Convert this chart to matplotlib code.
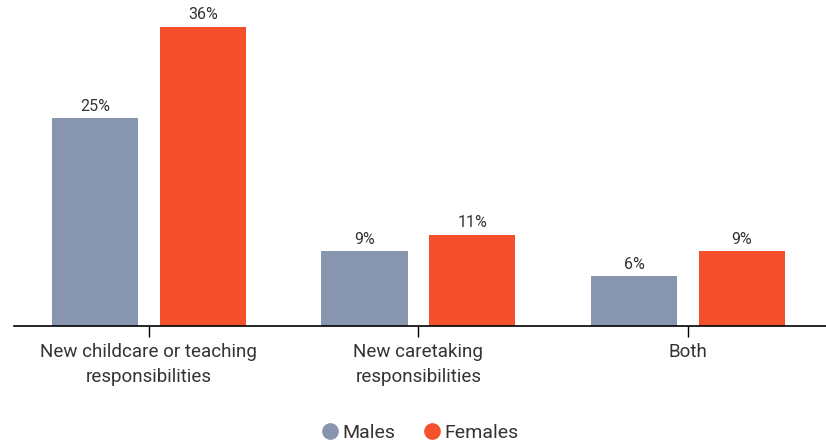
import numpy as np
import matplotlib.pyplot as plt
from matplotlib.lines import Line2D

# Data
categories = ['New childcare or teaching\nresponsibilities', 'New caretaking\nresponsibilities', 'Both']
males = [25, 9, 6]
females = [36, 11, 9]
series_names = ['Males', 'Females']
colors = ['#8796AE', '#F5502C']

plt.rcParams['font.family'] = ['Roboto', 'DejaVu Sans']
text_color = '#333333'

fig = plt.figure(figsize=(8.26, 4.44), dpi=100)
ax = fig.add_axes([14 / 826, 1 - 326 / 444, 1 - 14 / 826, 326 / 444])

x = np.arange(len(categories))
width = 0.32
off = 0.2
b1 = ax.bar(x - off, males, width, color=colors[0])
b2 = ax.bar(x + off, females, width, color=colors[1])

for bars, vals in [(b1, males), (b2, females)]:
    for bar, v in zip(bars, vals):
        ax.text(bar.get_x() + bar.get_width() / 2, v + 0.5, f'{v}%',
                ha='center', va='bottom', fontsize=11.5, color=text_color)

ax.set_xlim(-0.5, 2.512)
ax.set_ylim(0, 39.2)
ax.set_yticks([])
for s in ['top', 'right', 'left']:
    ax.spines[s].set_visible(False)
ax.spines['bottom'].set_color('black')
ax.spines['bottom'].set_linewidth(1.2)
ax.set_xticks(x)
ax.set_xticklabels(categories, fontsize=13.5, color=text_color, linespacing=1.55)
ax.tick_params(axis='x', length=8, width=1, color='black', pad=4)

handles = [Line2D([], [], marker='o', linestyle='', markersize=11, color=c) for c in colors]
fig.legend(handles, series_names, loc='lower center', bbox_to_anchor=(0.502, -0.035),
           ncol=2, frameon=False, fontsize=14, handletextpad=-0.35, columnspacing=0.9,
           labelcolor=text_color)

fig.savefig('out.png', dpi=100)
